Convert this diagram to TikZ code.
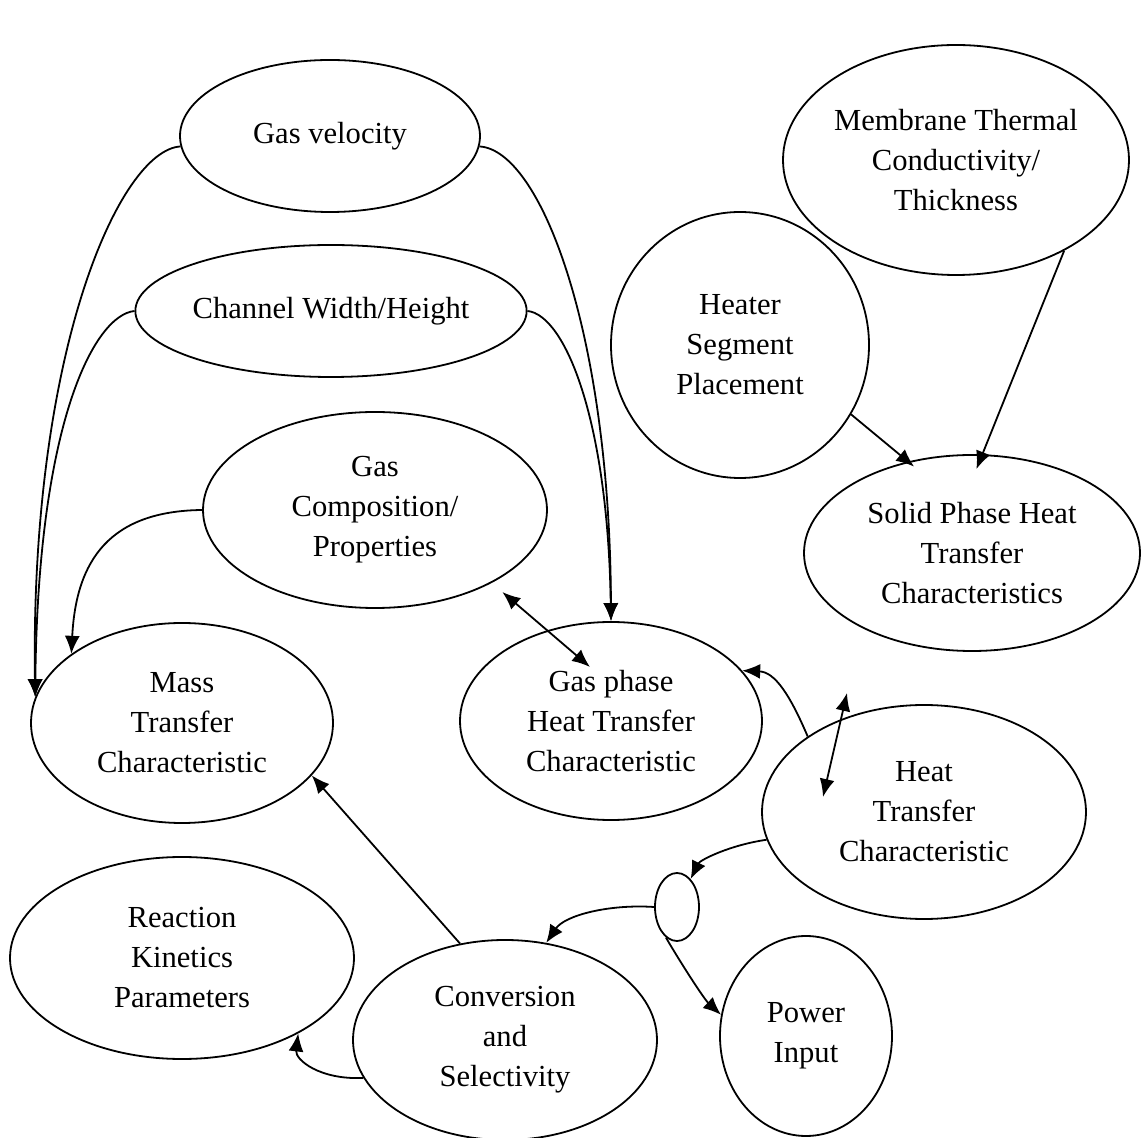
\documentclass[tikz,border=0pt]{standalone}
\usepackage{fontspec}
\setmainfont{Liberation Serif}
\usetikzlibrary{shapes.geometric,arrows.meta}

\tikzset{
  bubble/.style={ellipse, draw, line width=0.9pt, align=center, inner sep=0pt,
    font=\fontsize{15.3}{20}\selectfont},
  link/.style={line width=0.9pt, -{Latex[length=9pt,width=7.5pt]}},
  twoway/.style={line width=0.9pt, {Latex[length=9pt,width=7.5pt]}-{Latex[length=9pt,width=7.5pt]}}
}

\begin{document}
\begin{tikzpicture}[x=0.5pt,y=-0.5pt]
    \useasboundingbox (0,0) rectangle (1147,1138);

    % parameters
    \node[bubble, minimum width=150pt, minimum height=76pt] (vel) at (330,136) {Gas velocity};
    \node[bubble, minimum width=194pt, minimum height=66pt] (chan) at (331,311) {Channel Width/Height};
    \node[bubble, minimum width=172pt, minimum height=98pt] (comp) at (375,510) {Gas\\Composition/\\Properties};
    \node[bubble, minimum width=173pt, minimum height=115pt] (memb) at (956,160) {Membrane Thermal\\Conductivity/\\Thickness};
    \node[bubble, minimum width=129pt, minimum height=133pt] (heater) at (740,345) {Heater\\Segment\\Placement};
    \node[bubble, minimum width=172pt, minimum height=101pt] (react) at (182,958) {Reaction\\Kinetics\\Parameters};
    \node[bubble, minimum width=86pt, minimum height=100pt] (power) at (806,1036) {Power\\Input};

    % characteristics
    \node[bubble, minimum width=151pt, minimum height=100pt] (mass) at (182,723) {Mass\\Transfer\\Characteristic};
    \node[bubble, minimum width=151pt, minimum height=99pt] (gph) at (611,721) {Gas phase\\Heat Transfer\\Characteristic};
    \node[bubble, minimum width=162pt, minimum height=107pt] (heat) at (924,812) {Heat\\Transfer\\Characteristic};
    \node[bubble, minimum width=168pt, minimum height=98pt] (solid) at (972,553) {Solid Phase Heat\\Transfer\\Characteristics};
    \node[bubble, minimum width=152pt, minimum height=100pt] (conv) at (505,1040) {Conversion\\and\\Selectivity};
    \node[bubble, minimum width=22pt, minimum height=34pt] (junc) at (677,907) {};

    % free ends of the two-way arrows
    \coordinate (gphin) at (590,667);
    \coordinate (heattop) at (847,693);
    \coordinate (heatin) at (823,797);

    % connectors
    \draw[link] (vel.184) .. controls (120,150) and (30,350) .. (mass.170);
    \draw[link] (chan.west) .. controls (95,315) and (38,420) .. (mass.170);
    \draw[link] (vel.-4) .. controls (540,150) and (610,330) .. (gph.north);
    \draw[link] (chan.east) .. controls (565,315) and (608,420) .. (gph.north);
    \draw[link] (comp.west) .. controls (110,511) and (76,560) .. (mass.148);
    \draw[twoway, shorten <=7pt] (comp.-32) -- (gphin);
    \draw[link] (heat.147) .. controls (790,695) and (775,672) .. (gph.21);
    \draw[twoway] (heattop) -- (heatin);
    \draw[link] (heat.190) .. controls (730,845) and (700,860) .. (junc.64);
    \draw[link] (junc.west) .. controls (610,904) and (565,915) .. (conv.67);
    \draw[link] (junc.250) .. controls (685,970) and (705,1000) .. (power.166);
    \draw[link] (conv.115) -- (mass.-22);
    \draw[link] (conv.195) .. controls (320,1080) and (295,1060) .. (react.-33);
    \draw[link, shorten >=-4pt] (heater.-32) -- (solid.125);
    \draw[link, shorten >=-8pt] (memb.-40) -- (solid.84);
\end{tikzpicture}
\end{document}
